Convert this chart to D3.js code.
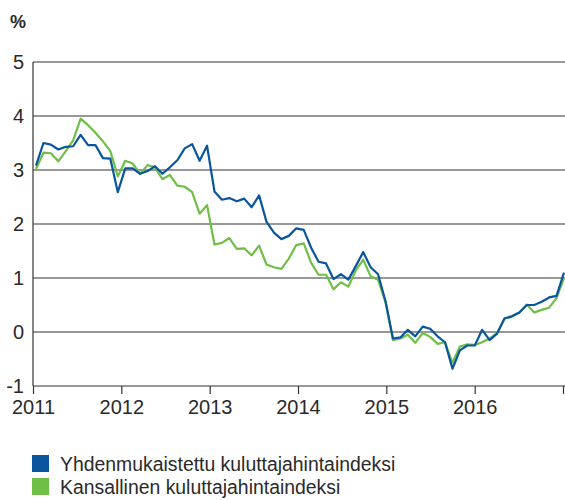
<!DOCTYPE html>
<html>
<head>
<meta charset="utf-8">
<script src="https://cdn.jsdelivr.net/npm/d3@7"></script>
<style>
  body { margin: 0; background: #fff; }
  svg text { font-family: "Liberation Sans", Arial, sans-serif; fill: #2a2a2a; }
</style>
</head>
<body>
<svg id="chart" width="565" height="500"></svg>
<script>
// monthly values Jan 2011 - Dec 2016
const years = [2011, 2012, 2013, 2014, 2015, 2016, 2017];
const yTicks = [-1, 0, 1, 2, 3, 4, 5];

const hicp = [
  3.08, 3.50, 3.47, 3.38, 3.43, 3.44, 3.65, 3.46, 3.46, 3.22, 3.21, 2.59,
  3.03, 3.03, 2.93, 2.98, 3.07, 2.93, 3.05, 3.18, 3.40, 3.48, 3.17, 3.45,
  2.60, 2.45, 2.48, 2.42, 2.47, 2.31, 2.53, 2.04, 1.84, 1.72, 1.78, 1.92,
  1.89, 1.56, 1.30, 1.27, 0.98, 1.07, 0.97, 1.22, 1.48, 1.20, 1.07, 0.57,
  -0.12, -0.10, 0.04, -0.08, 0.10, 0.06, -0.08, -0.19, -0.68, -0.34, -0.25, -0.25,
  0.04, -0.15, -0.03, 0.25, 0.29, 0.36, 0.50, 0.50, 0.56, 0.64, 0.67, 1.10
];
const cpi = [
  3.02, 3.32, 3.31, 3.16, 3.35, 3.55, 3.95, 3.83, 3.69, 3.53, 3.35, 2.88,
  3.17, 3.12, 2.93, 3.09, 3.05, 2.83, 2.91, 2.71, 2.69, 2.59, 2.19, 2.35,
  1.62, 1.65, 1.74, 1.54, 1.55, 1.42, 1.60, 1.25, 1.20, 1.17, 1.36, 1.61,
  1.64, 1.28, 1.06, 1.06, 0.79, 0.92, 0.84, 1.14, 1.34, 1.03, 0.97, 0.55,
  -0.15, -0.12, -0.05, -0.20, -0.02, -0.09, -0.22, -0.19, -0.57, -0.27, -0.23, -0.24,
  -0.19, -0.12, -0.02, 0.25, 0.29, 0.36, 0.51, 0.36, 0.41, 0.45, 0.63, 1.00
];
const seriesNames = ["Yhdenmukaistettu kuluttajahintaindeksi", "Kansallinen kuluttajahintaindeksi"];
const seriesColors = ["#0a569e", "#6fbf47"];

const svg = d3.select("#chart");
const months = d3.range(hicp.length);

const x = d3.scalePoint().domain(months).range([36, 564]);
const xYear = d3.scaleLinear().domain([2011, 2017]).range([33, 563]);
const y = d3.scaleLinear().domain([-1, 5]).range([386, 62]);

// grid
svg.append("g")
  .selectAll("line")
  .data(yTicks.filter(d => d > -1))
  .enter()
  .append("line")
  .attr("x1", 33)
  .attr("x2", 565)
  .attr("y1", d => y(d))
  .attr("y2", d => y(d))
  .attr("stroke", "#333")
  .attr("stroke-width", 1.2);

// y labels
svg.append("g")
  .selectAll("text")
  .data(yTicks)
  .enter()
  .append("text")
  .attr("x", 24)
  .attr("y", d => y(d) + 7)
  .attr("text-anchor", "end")
  .attr("font-size", 20)
  .text(d => d);

svg.append("text")
  .attr("x", 10)
  .attr("y", 28)
  .attr("font-size", 18)
  .attr("font-weight", "bold")
  .text("%");

// x axis
const xAxis = d3.axisBottom(xYear)
  .tickValues(years)
  .tickSize(8)
  .tickPadding(6)
  .tickFormat(d => d < 2017 ? d : "");

const gx = svg.append("g")
  .attr("transform", "translate(0," + y(-1) + ")")
  .call(xAxis);
gx.select(".domain").attr("stroke", "#333").attr("stroke-width", 1.2).attr("d", "M33,0H565");
gx.selectAll(".tick line").attr("stroke", "#333").attr("stroke-width", 1.2);
gx.selectAll(".tick text").attr("font-size", 20).attr("fill", "#2a2a2a").attr("font-family", null);

// left axis line
svg.append("line")
  .attr("x1", 33).attr("x2", 33)
  .attr("y1", y(5)).attr("y2", y(-1))
  .attr("stroke", "#333")
  .attr("stroke-width", 1.2);

// series
const line = d3.line()
  .x((d, i) => x(i))
  .y(d => y(d));

[cpi, hicp].forEach((s, k) => {
  svg.append("path")
    .datum(s)
    .attr("fill", "none")
    .attr("stroke", seriesColors[1 - k])
    .attr("stroke-width", 2.2)
    .attr("stroke-linejoin", "round")
    .attr("d", line);
});

// legend
const legend = svg.append("g")
  .selectAll("g")
  .data(seriesNames)
  .enter()
  .append("g")
  .attr("transform", (d, i) => "translate(32," + (455 + i * 23) + ")");

legend.append("rect")
  .attr("width", 17)
  .attr("height", 17)
  .attr("fill", (d, i) => seriesColors[i]);

legend.append("text")
  .attr("x", 28)
  .attr("y", 15.5)
  .attr("font-size", 19.4)
  .text(d => d);
</script>
</body>
</html>
